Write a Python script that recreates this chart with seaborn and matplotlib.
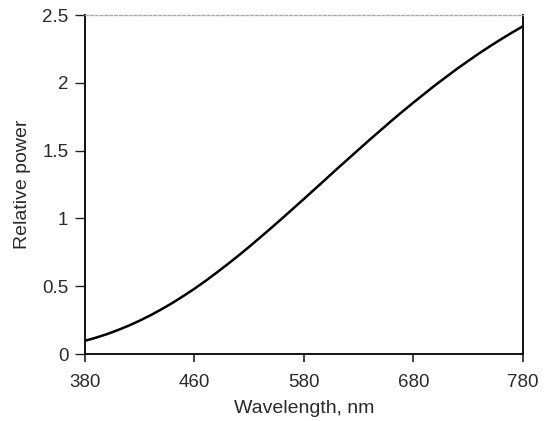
import matplotlib
matplotlib.use("Agg")
import matplotlib.pyplot as plt
import seaborn as sns
import pandas as pd

wavelength = [380, 390, 400, 410, 420, 430, 440, 450, 460, 470, 480, 490, 500,
              510, 520, 530, 540, 550, 560, 570, 580, 590, 600, 610, 620, 630,
              640, 650, 660, 670, 680, 690, 700, 710, 720, 730, 740, 750, 760,
              770, 780]
relative_power = [0.098, 0.121, 0.147, 0.177, 0.210, 0.247, 0.287, 0.331, 0.378,
                  0.429, 0.482, 0.539, 0.599, 0.661, 0.725, 0.791, 0.860, 0.929,
                  1.000, 1.072, 1.144, 1.217, 1.290, 1.364, 1.436, 1.508, 1.580,
                  1.650, 1.720, 1.788, 1.854, 1.919, 1.983, 2.044, 2.104, 2.161,
                  2.217, 2.270, 2.321, 2.370, 2.417]
x_ticks = [380, 480, 580, 680, 780]
x_tick_labels = ["380", "460", "580", "680", "780"]
y_ticks = [0, 0.5, 1, 1.5, 2, 2.5]
y_tick_labels = ["0", "0.5", "1", "1.5", "2", "2.5"]

df = pd.DataFrame({"wavelength": wavelength, "power": relative_power})

sns.set_theme(style="ticks")
plt.rcParams["font.family"] = ["Liberation Sans", "DejaVu Sans"]

fig = plt.figure(figsize=(5.49, 4.21), dpi=100)
ax = fig.add_axes([0.155, 0.159, 0.797, 0.805])
sns.lineplot(data=df, x="wavelength", y="power", ax=ax, color="black", linewidth=1.8)

ax.set_xlim(380, 780)
ax.set_ylim(0, 2.5)
ax.set_xticks(x_ticks)
ax.set_xticklabels(x_tick_labels)
ax.set_yticks(y_ticks)
ax.set_yticklabels(y_tick_labels)
ax.tick_params(axis="x", direction="out", length=6, width=1.2, colors="#222222",
               labelsize=13.5, labelcolor="#2a2a2a", pad=8)
ax.tick_params(axis="y", direction="out", length=7, width=1.0, colors="#222222",
               labelsize=13.5, labelcolor="#2a2a2a", pad=5)
for side in ["left", "bottom", "right"]:
    ax.spines[side].set_color("#111111")
    ax.spines[side].set_linewidth(1.4)
ax.spines["top"].set_color("#aaaaaa")
ax.spines["top"].set_linewidth(1.0)
ax.spines["top"].set_linestyle((0, (2, 1.5)))
ax.set_xlabel("Wavelength, nm", fontsize=14, color="#2a2a2a", labelpad=7)
ax.set_ylabel("Relative power", fontsize=14, color="#2a2a2a", labelpad=8)

fig.savefig("out.png", dpi=100, facecolor="white")
